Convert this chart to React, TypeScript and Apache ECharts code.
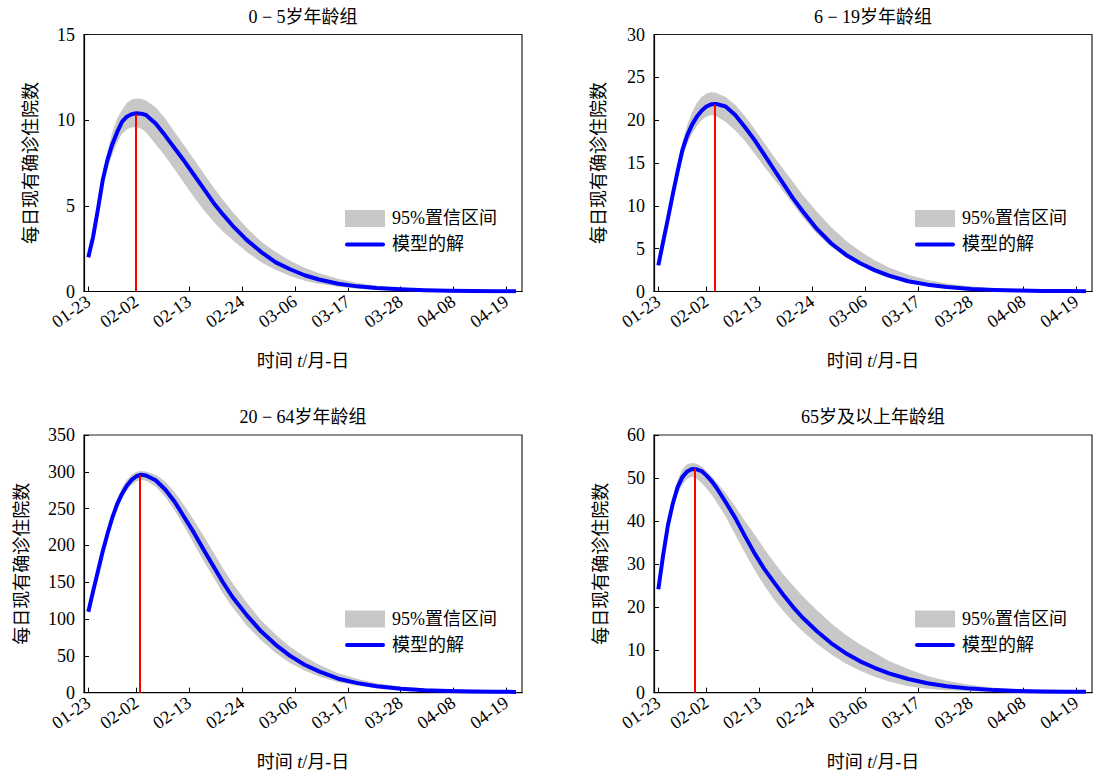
import React, { useEffect, useRef } from "react";
import * as echarts from "echarts";

// ---- data ----
const days = [0, 1, 2, 3, 4, 5, 6, 7, 8, 9, 10, 11, 12, 14, 16, 18, 20, 22, 24, 26, 28, 30, 33, 36, 39, 42, 45, 48, 52, 56, 60, 65, 70, 75, 80, 85, 89];
const tickDays = [0, 10, 21, 32, 43, 54, 65, 76, 87];
const tickLabels = ["01-23", "02-02", "02-13", "02-24", "03-06", "03-17", "03-28", "04-08", "04-19"];
const titles = ["0 − 5岁年龄组", "6 − 19岁年龄组", "20 − 64岁年龄组", "65岁及以上年龄组"];
const yMaxes = [15, 30, 350, 60];
const ySteps = [5, 5, 50, 10];

const p1Mean = [2.0, 3.2, 4.8, 6.5, 7.7, 8.6, 9.3, 9.9, 10.2, 10.35, 10.4, 10.38, 10.3, 9.8, 9.1, 8.35, 7.6, 6.8, 6.0, 5.2, 4.5, 3.85, 3.0, 2.3, 1.7, 1.3, 0.95, 0.7, 0.45, 0.3, 0.2, 0.13, 0.08, 0.05, 0.03, 0.02, 0.01];
const p1Upper = [2.1, 3.3, 5.0, 6.8, 8.2, 9.3, 10.1, 10.6, 11.0, 11.2, 11.27, 11.25, 11.15, 10.75, 10.1, 9.3, 8.5, 7.7, 6.9, 6.1, 5.35, 4.65, 3.7, 2.9, 2.3, 1.8, 1.38, 1.07, 0.74, 0.5, 0.34, 0.2, 0.12, 0.07, 0.04, 0.03, 0.02];
const p1Lower = [1.9, 3.0, 4.5, 6.1, 7.2, 8.0, 8.7, 9.2, 9.45, 9.57, 9.6, 9.5, 9.3, 8.6, 7.9, 7.1, 6.3, 5.5, 4.75, 4.1, 3.5, 3.0, 2.3, 1.7, 1.25, 0.9, 0.63, 0.45, 0.27, 0.16, 0.09, 0.05, 0.03, 0.02, 0.01, 0.0, 0.0];

const p2Mean = [3.05, 5.8, 8.5, 11.3, 14.0, 16.5, 18.2, 19.45, 20.4, 21.1, 21.6, 21.85, 21.9, 21.6, 20.6, 19.2, 17.7, 16.0, 14.3, 12.6, 10.9, 9.4, 7.3, 5.6, 4.3, 3.3, 2.5, 1.85, 1.2, 0.8, 0.52, 0.3, 0.18, 0.11, 0.07, 0.05, 0.04];
const p2Upper = [3.1, 6.0, 8.9, 11.9, 14.8, 17.4, 19.4, 20.9, 22.0, 22.7, 23.1, 23.25, 23.2, 22.7, 21.8, 20.5, 19.0, 17.4, 15.8, 14.3, 12.8, 11.3, 9.3, 7.5, 5.95, 4.7, 3.65, 2.8, 1.95, 1.35, 0.92, 0.58, 0.36, 0.22, 0.14, 0.1, 0.08];
const p2Lower = [3.0, 5.6, 8.1, 10.7, 13.2, 15.5, 17.2, 18.4, 19.3, 20.0, 20.4, 20.6, 20.5, 19.8, 18.8, 17.6, 16.1, 14.6, 13.2, 11.7, 10.2, 8.7, 6.7, 5.2, 4.0, 3.1, 2.2, 1.55, 0.95, 0.6, 0.42, 0.25, 0.15, 0.09, 0.05, 0.03, 0.02];

const p3Mean = [110, 138, 165, 192, 216, 238, 256, 270, 281, 289, 294, 296, 295, 288.5, 276, 259, 238, 217, 194, 172, 150, 130, 105, 83, 65, 50, 38, 29, 19, 13, 8.8, 5.3, 3.4, 2.3, 1.7, 1.3, 1.1];
const p3Upper = [112, 141, 169, 197, 222, 244, 263, 278, 289, 296, 300, 301, 300.5, 296, 287, 272, 254, 234, 213, 191, 169, 149, 122, 98, 79, 62, 49, 38, 26.5, 18.5, 13, 8.5, 5.6, 3.8, 2.7, 2.1, 1.8];
const p3Lower = [108, 135, 161, 187, 210, 232, 249, 263, 274, 282, 287, 289, 288, 280, 266, 247, 225, 202, 179, 157, 135, 116, 91, 71, 54, 40.5, 30, 22, 14.3, 9.3, 6.0, 3.6, 2.3, 1.5, 1.0, 0.8, 0.7];

const p4Mean = [24.1, 32, 39, 44, 47.8, 50.2, 51.5, 52.1, 52.0, 51.6, 50.6, 49.4, 47.9, 44.4, 40.7, 36.5, 32.5, 28.9, 25.8, 22.8, 20.0, 17.5, 14.3, 11.5, 9.2, 7.3, 5.8, 4.5, 3.2, 2.2, 1.5, 0.95, 0.6, 0.4, 0.3, 0.25, 0.22];
const p4Upper = [24.5, 32.8, 40, 45.5, 49.5, 52, 53.2, 53.5, 53.3, 52.7, 51.7, 50.5, 49.2, 46.5, 43.4, 40, 36.9, 33.6, 30.5, 27.6, 25, 22.5, 19.2, 16.1, 13.5, 11.2, 9.3, 7.4, 5.5, 3.9, 2.8, 1.8, 1.15, 0.75, 0.5, 0.38, 0.32];
const p4Lower = [23.7, 31.2, 38, 42.6, 46.2, 48.4, 49.8, 50.3, 49.8, 48.8, 47.6, 46.2, 44.6, 41.0, 36.8, 32.6, 28.6, 25.0, 21.8, 19.0, 16.5, 14.3, 11.4, 8.9, 6.8, 5.1, 3.7, 2.6, 1.5, 0.9, 0.55, 0.32, 0.18, 0.11, 0.07, 0.05, 0.04];

const peakDays = [9.8, 11.7, 10.7, 7.5];
const peakValues = [10.35, 21.8, 295, 52.1];

const means = [p1Mean, p2Mean, p3Mean, p4Mean];
const uppers = [p1Upper, p2Upper, p3Upper, p4Upper];
const lowers = [p1Lower, p2Lower, p3Lower, p4Lower];

const BAND_NAME = "95%置信区间";
const LINE_NAME = "模型的解";
const FONT = "'Liberation Serif', 'Noto Sans CJK SC', serif";

export default function App() {
  const ref = useRef<HTMLDivElement>(null);

  useEffect(() => {
    if (!ref.current) return;
    const chart = echarts.init(ref.current, undefined, { renderer: "svg" });

    const grids = [
      { left: 84, top: 34.5, width: 438, height: 257 },
      { left: 654, top: 34.5, width: 438, height: 257 },
      { left: 84, top: 435, width: 438, height: 257.7 },
      { left: 654, top: 435, width: 438, height: 257.7 },
    ];
    const yNameGaps = [44, 46, 53, 44];

    const option: any = {
      animation: false,
      backgroundColor: "#ffffff",
      title: grids.map((g, i) => ({
        text: titles[i],
        left: g.left + g.width / 2,
        top: g.top - 27,
        textAlign: "center",
        padding: 0,
        textStyle: { fontSize: 18, fontWeight: "normal", fontFamily: FONT, color: "#000" },
      })),
      grid: grids.map((g) => ({
        ...g,
        show: true,
        borderColor: "#222",
        borderWidth: 1.2,
        backgroundColor: "transparent",
      })),
      legend: grids.map((g) => ({
        orient: "vertical",
        left: g.left + 261,
        top: g.top + 175,
        padding: 0,
        itemWidth: 40,
        itemHeight: 17,
        itemGap: 8,
        selectedMode: false,
        textStyle: { fontSize: 18, fontFamily: FONT, color: "#000", padding: [0, 0, 0, 2] },
        data: [
          { name: BAND_NAME, icon: "rect", itemStyle: { color: "#c8c8c8", borderWidth: 0 } },
          {
            name: LINE_NAME,
            icon: "path://M2,0H38A2,2,0,0,1,38,4H2A2,2,0,0,1,2,0Z",
            itemStyle: { color: "#0000ff", borderWidth: 0 },
          },
        ],
      })),
      xAxis: grids.map((g, i) => ({
        gridIndex: i,
        type: "value",
        min: -0.9,
        max: 90.25,
        axisLine: { show: true, onZero: false, lineStyle: { color: "#000", width: 1.2 } },
        axisTick: { show: true, inside: true, length: 5, customValues: tickDays, lineStyle: { color: "#000" } },
        axisLabel: {
          customValues: tickDays,
          formatter: (v: number) => {
            const k = tickDays.indexOf(Math.round(v));
            return k >= 0 ? tickLabels[k] : "";
          },
          rotate: 35,
          margin: 8,
          fontSize: 18,
          fontFamily: FONT,
          color: "#000",
        },
        splitLine: { show: false },
        name: "时间 {it|t}/月-日",
        nameLocation: "middle",
        nameGap: 60,
        nameTextStyle: {
          fontSize: 18,
          fontFamily: FONT,
          color: "#000",
          rich: { it: { fontStyle: "italic", fontSize: 18, fontFamily: FONT, color: "#000" } },
        },
      })),
      yAxis: grids.map((g, i) => ({
        gridIndex: i,
        type: "value",
        min: 0,
        max: yMaxes[i],
        interval: ySteps[i],
        axisLine: { show: true, onZero: false, lineStyle: { color: "#000", width: 1.2 } },
        axisTick: { show: true, inside: true, length: 5, lineStyle: { color: "#000" } },
        axisLabel: { margin: 9, fontSize: 18, fontFamily: FONT, color: "#000" },
        splitLine: { show: false },
        name: "每日现有确诊住院数",
        nameLocation: "middle",
        nameRotate: 90,
        nameGap: yNameGaps[i],
        nameTextStyle: { fontSize: 18, fontFamily: FONT, color: "#000" },
      })),
      series: [] as any[],
    };

    for (let i = 0; i < 4; i++) {
      const up = uppers[i];
      const lo = lowers[i];
      option.series.push({
        type: "custom",
        name: BAND_NAME,
        xAxisIndex: i,
        yAxisIndex: i,
        silent: true,
        itemStyle: { color: "#c8c8c8" },
        data: [[0, 0]],
        renderItem: (_params: any, api: any) => {
          const pts: number[][] = [];
          for (let k = 0; k < days.length; k++) pts.push(api.coord([days[k], up[k]]));
          for (let k = days.length - 1; k >= 0; k--) pts.push(api.coord([days[k], lo[k]]));
          return { type: "polygon", shape: { points: pts }, style: { fill: "#c8c8c8", stroke: "none" } };
        },
        z: 1,
      });
      option.series.push({
        type: "line",
        name: LINE_NAME,
        xAxisIndex: i,
        yAxisIndex: i,
        data: days.map((d, k) => [d, means[i][k]]),
        symbol: "none",
        silent: true,
        lineStyle: { color: "#0000ff", width: 4, join: "round" },
        itemStyle: { color: "#0000ff" },
        z: 2,
        markLine: {
          silent: true,
          symbol: ["none", "none"],
          label: { show: false },
          lineStyle: { color: "#ff0000", width: 2, type: "solid" },
          data: [[{ coord: [peakDays[i], 0] }, { coord: [peakDays[i], peakValues[i]] }]],
        },
      });
    }

    chart.setOption(option);
    return () => chart.dispose();
  }, []);

  return (
    <div
      ref={ref}
      style={{ position: "absolute", left: 0, top: 0, width: 1097, height: 780, background: "#fff" }}
    />
  );
}
